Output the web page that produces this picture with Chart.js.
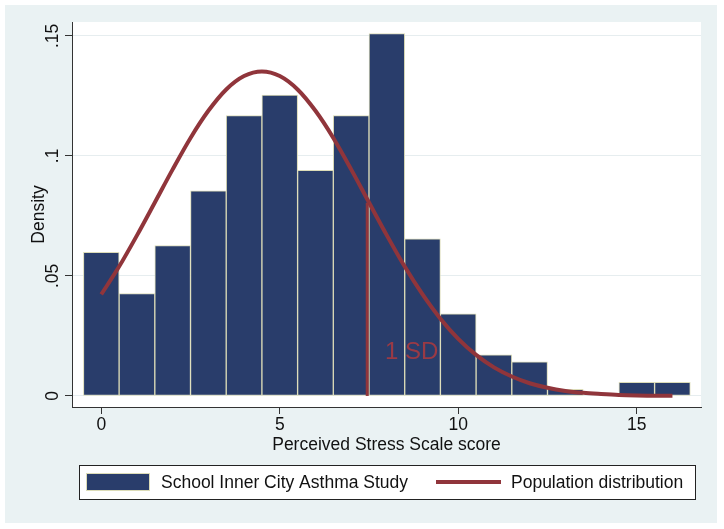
<!DOCTYPE html>
<html>
<head>
<meta charset="utf-8">
<script src="https://cdn.jsdelivr.net/npm/chart.js@4.4.1/dist/chart.umd.min.js"></script>
<style>
  html, body { margin: 0; padding: 0; background: #fff; }
  #wrap { width: 724px; height: 529px; }
</style>
</head>
<body>
<div id="wrap"><canvas id="chart" width="724" height="529"></canvas></div>
<script>
// histogram: score bins and density
var scores = [0, 1, 2, 3, 4, 5, 6, 7, 8, 9, 10, 11, 12, 13, 14, 15, 16]
var densities = [0.0598, 0.0427, 0.0627, 0.0855, 0.1168, 0.1254, 0.0940, 0.1168, 0.1510,
                 0.0655, 0.0342, 0.0171, 0.0142, 0.0028, 0, 0.0057, 0.0057]

// population curve, read every half point
var curveX = [0, 0.5, 1, 1.5, 2, 2.5, 3, 3.5, 4, 4.5, 5, 5.5, 6, 6.5, 7, 7.5, 8,
              8.5, 9, 9.5, 10, 10.5, 11, 11.5, 12, 12.5, 13, 13.5, 14, 14.5, 15, 15.5, 16]
var curveY = [0.0423, 0.0539, 0.0669, 0.0806, 0.0944, 0.1075, 0.1188, 0.1277, 0.1333, 0.1352,
              0.1333, 0.1277, 0.1188, 0.1075, 0.0944, 0.0806, 0.0669, 0.0539, 0.0423, 0.0322,
              0.0238, 0.0171, 0.0119, 0.0081, 0.0053, 0.0034, 0.0021, 0.0013, 0.0008, 0.0004,
              0.0002, 0.0001, 0.0001]

// one SD marker
var sdX = [7.45, 7.45]
var sdY = [0, 0.0805]

var yTicks = [0, 0.05, 0.1, 0.15]
var yTickLabels = ['0', '.05', '.1', '.15']
var xTicks = [0, 5, 10, 15]

var legendLabels = ['School Inner City Asthma Study', 'Population distribution']

var NAVY = '#293d6b'
var EDGE = '#dcdcb8'
var MAROON = '#90353b'
var BG = '#eaf2f3'
var FONT = 'Liberation Sans, Arial, Helvetica, sans-serif'
var FS = 17.5

var bars = scores.map(function (s, i) { return {x: s, y: densities[i]} })
var curve = curveX.map(function (x, i) { return {x: x, y: curveY[i]} })
var sdLine = sdX.map(function (x, i) { return {x: x, y: sdY[i]} })

var backdrop = {
    id: 'backdrop',
    beforeDraw: function (chart) {
        var ctx = chart.ctx, a = chart.chartArea
        ctx.save()
        ctx.fillStyle = '#ffffff'
        ctx.fillRect(0, 0, chart.width, chart.height)
        ctx.fillStyle = BG
        ctx.fillRect(5, 5, 712, 518)
        ctx.fillStyle = '#ffffff'
        ctx.fillRect(a.left, a.top, a.right - a.left, a.bottom - a.top)
        ctx.restore()
    },
    afterDraw: function (chart) {
        var ctx = chart.ctx
        var xs = chart.scales.x, ys = chart.scales.y
        ctx.save()
        // rotated y tick labels
        ctx.fillStyle = '#111'
        ctx.font = FS + 'px ' + FONT
        ctx.textAlign = 'center'
        ctx.textBaseline = 'middle'
        yTicks.forEach(function (v, i) {
            ctx.save()
            ctx.translate(53, ys.getPixelForValue(v))
            ctx.rotate(-Math.PI / 2)
            ctx.fillText(yTickLabels[i], 0, 0)
            ctx.restore()
        })
        // 1 SD note
        ctx.fillStyle = '#9a3a45'
        ctx.font = '24px ' + FONT
        ctx.textAlign = 'left'
        ctx.fillText('1 SD', xs.getPixelForValue(7.95), ys.getPixelForValue(0.018))

        // legend box
        ctx.fillStyle = '#ffffff'
        ctx.fillRect(79, 465, 616, 34)
        ctx.strokeStyle = '#222'
        ctx.lineWidth = 1
        ctx.strokeRect(79.5, 465.5, 616, 34)
        ctx.fillStyle = NAVY
        ctx.fillRect(86, 473, 64, 18)
        ctx.strokeStyle = EDGE
        ctx.strokeRect(86.5, 473.5, 63, 17)
        ctx.strokeStyle = MAROON
        ctx.lineWidth = 4
        ctx.beginPath()
        ctx.moveTo(436, 482)
        ctx.lineTo(501, 482)
        ctx.stroke()
        ctx.fillStyle = '#111'
        ctx.font = FS + 'px ' + FONT
        ctx.fillText(legendLabels[0], 161, 483)
        ctx.fillText(legendLabels[1], 511, 483)
        ctx.restore()
    }
}

var canvas = document.getElementById('chart').getContext('2d')
window.hist = new Chart(canvas, {
    type: 'bar',
    data: {
        datasets: [{
            type: 'line',
            label: legendLabels[1],
            data: curve,
            borderColor: MAROON,
            borderWidth: 4,
            pointRadius: 0,
            tension: 0.4,
            cubicInterpolationMode: 'monotone',
            order: 1
        }, {
            type: 'line',
            label: '1 SD',
            data: sdLine,
            borderColor: MAROON,
            borderWidth: 3,
            pointRadius: 0,
            order: 0
        }, {
            type: 'bar',
            label: legendLabels[0],
            data: bars,
            backgroundColor: NAVY,
            borderColor: EDGE,
            borderWidth: 1,
            borderSkipped: false,
            barPercentage: 1,
            categoryPercentage: 1,
            grouped: false,
            order: 2
        }]
    },
    options: {
        responsive: false,
        animation: false,
        layout: { padding: { left: 5, top: 22, right: 23, bottom: 67 } },
        plugins: { legend: { display: false }, tooltip: { enabled: false } },
        scales: {
            x: {
                type: 'linear',
                offset: false,
                min: -0.82,
                max: 16.8,
                afterFit: function (s) { s.height = 55 },
                afterBuildTicks: function (s) { s.ticks = xTicks.map(function (v) { return {value: v} }) },
                ticks: {
                    color: '#111',
                    font: { family: FONT, size: FS },
                    padding: 1,
                    maxRotation: 0
                },
                grid: { offset: false, drawOnChartArea: false, drawTicks: true, tickLength: 7, tickColor: '#333' },
                border: { display: true, color: '#333', width: 1 },
                title: {
                    display: true,
                    text: 'Perceived Stress Scale score',
                    color: '#111',
                    font: { family: FONT, size: FS },
                    padding: { top: 0, bottom: 6 }
                }
            },
            y: {
                min: -0.0046,
                max: 0.1558,
                afterFit: function (s) { s.width = 67 },
                afterBuildTicks: function (s) { s.ticks = yTicks.map(function (v) { return {value: v} }) },
                ticks: { display: false },
                grid: { color: '#e6edef', lineWidth: 1, drawTicks: true, tickLength: 7, tickColor: '#333' },
                border: { display: true, color: '#333', width: 1 },
                title: {
                    display: true,
                    text: 'Density',
                    color: '#111',
                    font: { family: FONT, size: FS },
                    padding: { top: 24, bottom: 0 }
                }
            }
        }
    },
    plugins: [backdrop]
})
</script>
</body>
</html>
